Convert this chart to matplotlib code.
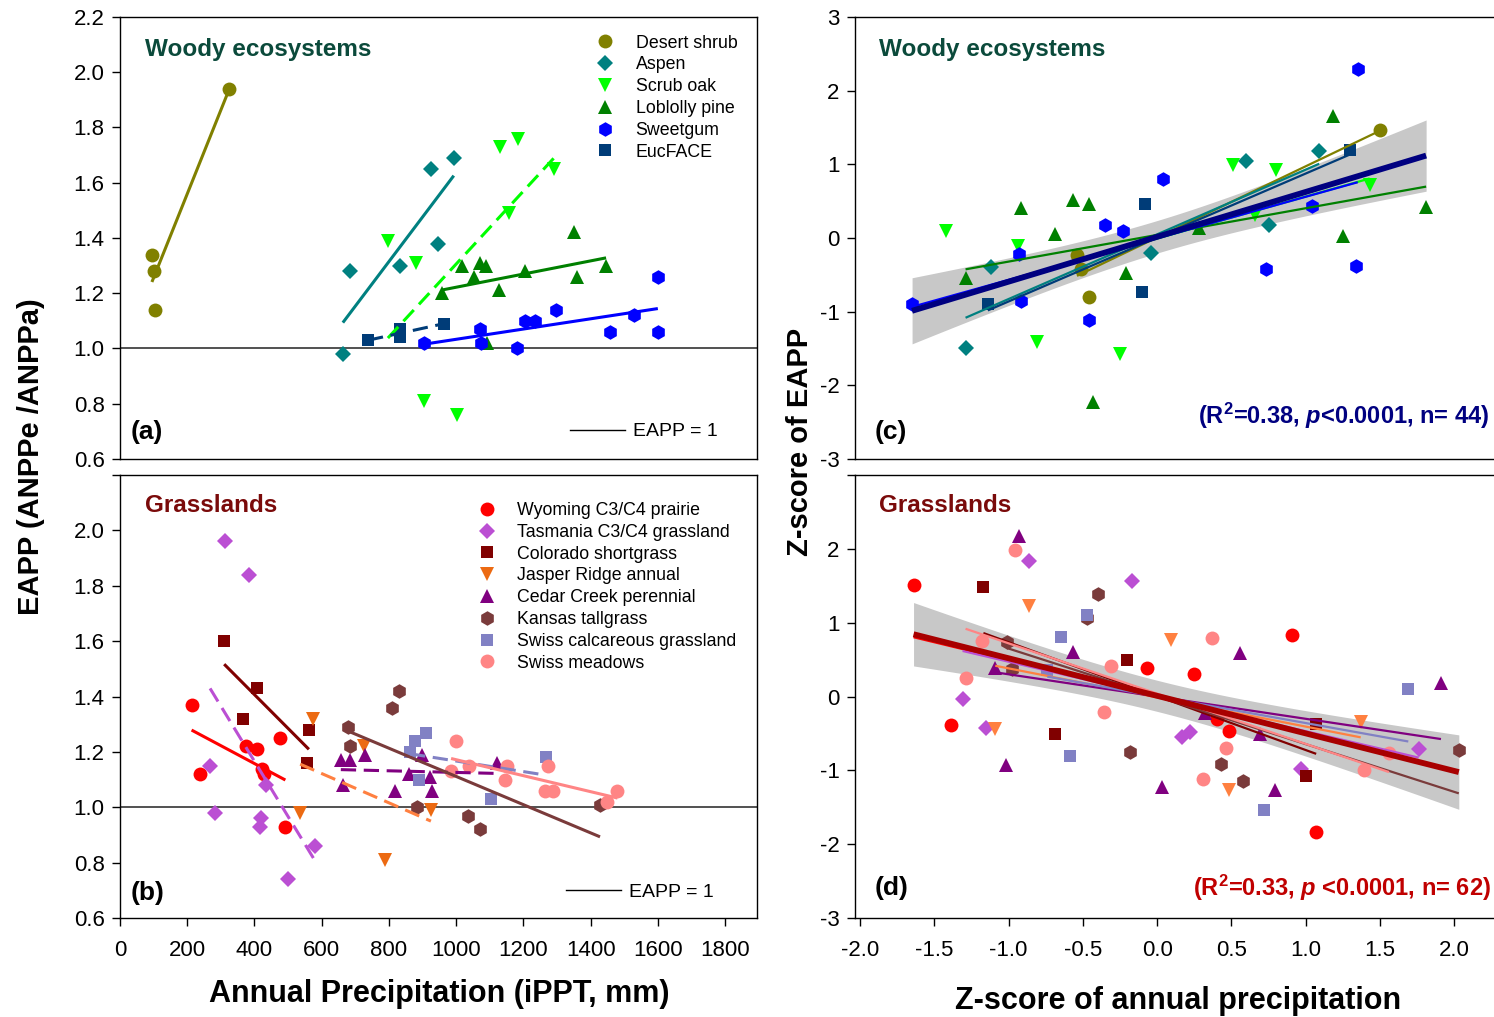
import numpy as np
import matplotlib
matplotlib.use("Agg")
import matplotlib.pyplot as plt
from matplotlib.lines import Line2D

plt.rcParams["font.family"] = ["Liberation Sans", "DejaVu Sans"]
plt.rcParams["mathtext.fontset"] = "custom"
plt.rcParams["mathtext.rm"] = "Liberation Sans:bold"
plt.rcParams["mathtext.bf"] = "Liberation Sans:bold"
plt.rcParams["mathtext.it"] = "Liberation Sans:italic:bold"
plt.rcParams["axes.unicode_minus"] = False

# ---------------- panel (a): woody ecosystems, precipitation vs EAPP
desert_ppt = [95, 100, 104, 324]
desert_eapp = [1.34, 1.28, 1.14, 1.94]
aspen_ppt = [663, 684, 833, 925, 946, 993]
aspen_eapp = [0.98, 1.28, 1.30, 1.65, 1.38, 1.69]
scrub_ppt = [797, 880, 904, 1002, 1130, 1157, 1184, 1291]
scrub_eapp = [1.39, 1.31, 0.81, 0.76, 1.73, 1.49, 1.76, 1.65]
lobl_ppt = [958, 1017, 1053, 1071, 1089, 1092, 1127, 1205, 1350, 1359, 1446]
lobl_eapp = [1.20, 1.30, 1.26, 1.31, 1.30, 1.02, 1.21, 1.28, 1.42, 1.26, 1.30]
sweet_ppt = [904, 1071, 1074, 1181, 1205, 1234, 1297, 1457, 1529, 1600, 1600]
sweet_eapp = [1.02, 1.07, 1.02, 1.00, 1.10, 1.10, 1.14, 1.06, 1.12, 1.06, 1.26]
euc_ppt = [738, 833, 833, 964]
euc_eapp = [1.03, 1.07, 1.04, 1.09]

# ---------------- panel (b): grasslands, precipitation vs EAPP
wyo_ppt = [213, 238, 375, 408, 422, 428, 476, 492]
wyo_eapp = [1.37, 1.12, 1.22, 1.21, 1.14, 1.12, 1.25, 0.93]
tas_ppt = [268, 283, 313, 383, 418, 420, 435, 499, 579]
tas_eapp = [1.15, 0.98, 1.96, 1.84, 0.93, 0.96, 1.08, 0.74, 0.86]
col_ppt = [310, 365, 407, 557, 562]
col_eapp = [1.60, 1.32, 1.43, 1.16, 1.28]
jas_ppt = [536, 574, 725, 788, 925]
jas_eapp = [0.98, 1.32, 1.22, 0.81, 0.99]
ced_ppt = [657, 663, 684, 729, 817, 860, 897, 921, 929, 1121]
ced_eapp = [1.17, 1.08, 1.17, 1.19, 1.06, 1.12, 1.19, 1.11, 1.06, 1.16]
kan_ppt = [677, 685, 809, 829, 883, 1034, 1070, 1428]
kan_eapp = [1.29, 1.22, 1.36, 1.42, 1.00, 0.97, 0.92, 1.01]
scal_ppt = [863, 878, 889, 909, 1103, 1267]
scal_eapp = [1.20, 1.24, 1.10, 1.27, 1.03, 1.18]
smea_ppt = [985, 999, 1039, 1145, 1152, 1264, 1274, 1288, 1450, 1480]
smea_eapp = [1.13, 1.24, 1.15, 1.10, 1.15, 1.06, 1.15, 1.06, 1.02, 1.06]

# ---------------- panel (c): woody z-scores (precip, EAPP)
desert_zp = [-0.54, -0.51, -0.46, 1.50]
desert_ze = [-0.23, -0.42, -0.80, 1.47]
aspen_zp = [-1.29, -1.12, -0.04, 0.60, 0.75, 1.09]
aspen_ze = [-1.50, -0.39, -0.21, 1.04, 0.17, 1.18]
scrub_zp = [-1.42, -0.94, -0.81, -0.25, 0.51, 0.66, 0.80, 1.43]
scrub_ze = [0.09, -0.11, -1.41, -1.58, 0.99, 0.31, 0.92, 0.72]
lobl_zp = [-1.29, -0.92, -0.69, -0.57, -0.46, -0.43, -0.21, 0.28, 1.18, 1.25, 1.81]
lobl_ze = [-0.55, 0.41, 0.05, 0.52, 0.46, -2.23, -0.47, 0.14, 1.66, 0.03, 0.42]
sweet_zp = [-1.65, -0.93, -0.92, -0.46, -0.35, -0.23, 0.04, 0.73, 1.04, 1.34, 1.35]
sweet_ze = [-0.89, -0.22, -0.86, -1.11, 0.17, 0.10, 0.80, -0.42, 0.44, -0.38, 2.30]
euc_zp = [-1.14, -0.10, -0.08, 1.30]
euc_ze = [-0.90, -0.74, 0.46, 1.19]

# ---------------- panel (d): grassland z-scores (precip, EAPP)
wyo_zp = [-1.64, -1.39, -0.07, 0.25, 0.40, 0.48, 0.91, 1.07]
wyo_ze = [1.51, -0.39, 0.38, 0.31, -0.31, -0.46, 0.83, -1.83]
tas_zp = [-1.31, -1.15, -0.86, -0.17, 0.17, 0.22, 0.35, 0.97, 1.76]
tas_ze = [-0.03, -0.42, 1.83, 1.56, -0.55, -0.48, -0.20, -0.98, -0.71]
col_zp = [-1.17, -0.69, -0.20, 1.00, 1.07]
col_ze = [1.48, -0.51, 0.49, -1.07, -0.37]
jas_zp = [-1.09, -0.86, 0.09, 0.48, 1.37]
jas_ze = [-0.44, 1.23, 0.76, -1.26, -0.35]
ced_zp = [-1.09, -1.02, -0.93, -0.57, 0.03, 0.32, 0.56, 0.69, 0.79, 1.91]
ced_ze = [0.38, -0.93, 2.17, 0.60, -1.22, -0.22, 0.59, -0.51, -1.26, 0.19]
kan_zp = [-1.01, -0.98, -0.47, -0.40, -0.18, 0.43, 0.58, 2.03]
kan_ze = [0.74, 0.37, 1.06, 1.39, -0.75, -0.92, -1.15, -0.72]
scal_zp = [-0.74, -0.65, -0.59, -0.47, 0.72, 1.69]
scal_ze = [0.36, 0.81, -0.80, 1.10, -1.54, 0.10]
smea_zp = [-1.29, -1.18, -0.96, -0.36, -0.31, 0.31, 0.37, 0.46, 1.39, 1.56]
smea_ze = [0.25, 0.75, 1.99, -0.21, 0.42, -1.12, 0.79, -0.70, -1.00, -0.77]

woody_labels = ["Desert shrub", "Aspen", "Scrub oak", "Loblolly pine", "Sweetgum", "EucFACE"]
grass_labels = ["Wyoming C3/C4 prairie", "Tasmania C3/C4 grassland", "Colorado shortgrass",
                "Jasper Ridge annual", "Cedar Creek perennial", "Kansas tallgrass",
                "Swiss calcareous grassland", "Swiss meadows"]

# styles: (color, marker, markersize, dashed fit in raw panel)
woody_style = [("#808000", "o", 10, False), ("#008080", "D", 8, False),
               ("#00ff00", "v", 10, True), ("#008000", "^", 10, False),
               ("#0000ff", "h", 10.5, False), ("#003c78", "s", 8.5, True)]
grass_style = [("#ff0000", "o", 10, False), ("#bb4fd3", "D", 8, True),
               ("#800000", "s", 8.5, False), ("#ec6a12", "v", 10, True),
               ("#800080", "^", 10, True), ("#7a3b3b", "h", 10.5, False),
               ("#8181c4", "s", 8.5, True), ("#ff8585", "o", 10, False)]
grass_line_colors = ["#ff0000", "#bb4fd3", "#800000", "#ff8040",
                     "#800080", "#7a3b3b", "#8181c4", "#ff8585"]

woody_raw = [(desert_ppt, desert_eapp), (aspen_ppt, aspen_eapp), (scrub_ppt, scrub_eapp),
             (lobl_ppt, lobl_eapp), (sweet_ppt, sweet_eapp), (euc_ppt, euc_eapp)]
grass_raw = [(wyo_ppt, wyo_eapp), (tas_ppt, tas_eapp), (col_ppt, col_eapp), (jas_ppt, jas_eapp),
             (ced_ppt, ced_eapp), (kan_ppt, kan_eapp), (scal_ppt, scal_eapp), (smea_ppt, smea_eapp)]
woody_z = [(desert_zp, desert_ze), (aspen_zp, aspen_ze), (scrub_zp, scrub_ze),
           (lobl_zp, lobl_ze), (sweet_zp, sweet_ze), (euc_zp, euc_ze)]
grass_z = [(wyo_zp, wyo_ze), (tas_zp, tas_ze), (col_zp, col_ze), (jas_zp, jas_ze),
           (ced_zp, ced_ze), (kan_zp, kan_ze), (scal_zp, scal_ze), (smea_zp, smea_ze)]

T95_WOODY = 2.018   # t(0.975, df=42)
T95_GRASS = 2.000   # t(0.975, df=60)


def fit_line(ax, x, y, color, lw, dashed=False):
    x = np.asarray(x, float)
    y = np.asarray(y, float)
    k, b = np.polyfit(x, y, 1)
    xs = np.array([x.min(), x.max()])
    ls = (0, (5, 2.5)) if dashed else "-"
    ax.plot(xs, k * xs + b, color=color, lw=lw, ls=ls, zorder=3, solid_capstyle="butt")


def pooled_fit(ax, groups, color, t):
    x = np.concatenate([np.asarray(g[0], float) for g in groups])
    y = np.concatenate([np.asarray(g[1], float) for g in groups])
    n = len(x)
    k, b = np.polyfit(x, y, 1)
    s = np.sqrt(np.sum((y - (k * x + b)) ** 2) / (n - 2))
    sxx = np.sum((x - x.mean()) ** 2)
    xs = np.linspace(x.min(), x.max(), 120)
    yh = k * xs + b
    se = s * np.sqrt(1.0 / n + (xs - x.mean()) ** 2 / sxx)
    ax.fill_between(xs, yh - t * se, yh + t * se, color="#c8c8c8", lw=0, zorder=1)
    ax.plot(xs, yh, color=color, lw=4.2, zorder=3.5, solid_capstyle="butt")


def scatter_groups(ax, data, styles, colors=None):
    for i, ((x, y), (c, m, ms, _)) in enumerate(zip(data, styles)):
        col = colors[i] if colors else c
        ax.plot(x, y, ls="none", marker=m, ms=ms, color=col, mec=col, mew=0, zorder=2)


def style_axes(ax):
    for sp in ax.spines.values():
        sp.set_linewidth(1.0)
        sp.set_color("black")
    ax.tick_params(direction="out", length=6, width=1, labelsize=16)
    ax.tick_params(axis="y", pad=5)
    ax.tick_params(axis="x", pad=10)


fig = plt.figure(figsize=(14.94, 10.17), dpi=100)
ax_a = fig.add_axes([0.0803, 0.5487, 0.4264, 0.4346])
ax_b = fig.add_axes([0.0803, 0.0973, 0.4264, 0.4356])
ax_c = fig.add_axes([0.5723, 0.5487, 0.4300, 0.4346])
ax_d = fig.add_axes([0.5723, 0.0973, 0.4300, 0.4356])

# ---- (a)
scatter_groups(ax_a, woody_raw, woody_style)
for (x, y), (c, m, ms, dashed) in zip(woody_raw, woody_style):
    fit_line(ax_a, x, y, c, 2.2, dashed)
ax_a.axhline(1.0, color="#333333", lw=1.2, zorder=1)
ax_a.set_xlim(0, 1895)
ax_a.set_ylim(0.6, 2.2)
yt = np.arange(0.6, 2.21, 0.2)
ax_a.set_yticks(yt)
ax_a.set_yticklabels([f"{v:.1f}" for v in yt])
ax_a.tick_params(axis="x", bottom=False, labelbottom=False)

# ---- (b)
scatter_groups(ax_b, grass_raw, grass_style)
for (x, y), (c, m, ms, dashed), lc in zip(grass_raw, grass_style, grass_line_colors):
    fit_line(ax_b, x, y, lc if dashed else c, 2.2, dashed)
ax_b.axhline(1.0, color="#333333", lw=1.2, zorder=1)
ax_b.set_xlim(0, 1895)
ax_b.set_ylim(0.6, 2.2)
ax_b.set_yticks(yt)
ax_b.set_yticklabels([f"{v:.1f}" if v < 2.1 else "" for v in yt])
ax_b.set_xticks(np.arange(0, 1801, 200))

# ---- (c)
scatter_groups(ax_c, woody_z, woody_style)
pooled_fit(ax_c, woody_z, "#000080", T95_WOODY)
for (x, y), (c, m, ms, _) in zip(woody_z, woody_style):
    fit_line(ax_c, x, y, c, 1.6)
ax_c.set_xlim(-2.034, 2.29)
ax_c.set_ylim(-3, 3)
ax_c.set_yticks(range(-3, 4))
ax_c.tick_params(axis="x", bottom=False, labelbottom=False)

# ---- (d)
scatter_groups(ax_d, grass_z, grass_style, grass_line_colors)
pooled_fit(ax_d, grass_z, "#a80000", T95_GRASS)
for (x, y), lc in zip(grass_z, grass_line_colors):
    fit_line(ax_d, x, y, lc, 1.6)
ax_d.set_xlim(-2.034, 2.29)
ax_d.set_ylim(-3, 3)
ax_d.set_yticks(range(-3, 4))
ax_d.set_yticklabels([str(v) if v < 3 else "" for v in range(-3, 4)])
xt = np.arange(-2.0, 2.01, 0.5)
ax_d.set_xticks(xt)
ax_d.set_xticklabels([f"{v:.1f}" for v in xt])

for ax in (ax_a, ax_b, ax_c, ax_d):
    style_axes(ax)
for ax in (ax_c, ax_d):
    ax.spines["right"].set_visible(False)


# ---- legends
def species_legend(ax, labels, styles, anchor):
    handles = [Line2D([], [], ls="none", marker=m, ms=ms, color=c, mew=0)
               for (c, m, ms, _) in styles]
    leg = ax.legend(handles, labels, loc="upper left", bbox_to_anchor=anchor,
                    frameon=False, fontsize=12.8, handlelength=1.0, handletextpad=1.2,
                    labelspacing=0.27, borderpad=0, borderaxespad=0)
    ax.add_artist(leg)


def eapp_legend(ax, anchor):
    h = Line2D([], [], color="black", lw=1)
    ax.legend([h], ["EAPP = 1"], loc="center left", bbox_to_anchor=anchor, frameon=False,
              fontsize=14, handlelength=2.85, handletextpad=0.4, borderpad=0, borderaxespad=0)


species_legend(ax_a, woody_labels, woody_style, (0.748, 0.960))
species_legend(ax_b, grass_labels, grass_style, (0.562, 0.939))
eapp_legend(ax_a, (0.706, 0.062))
eapp_legend(ax_b, (0.700, 0.058))

# ---- panel texts
woody_col = "#0b4a3b"
grass_col = "#7a0a0a"
ax_a.text(0.039, 0.926, "Woody ecosystems", transform=ax_a.transAxes, fontsize=17.5,
          fontweight="bold", color=woody_col, va="center")
ax_b.text(0.039, 0.932, "Grasslands", transform=ax_b.transAxes, fontsize=17.5,
          fontweight="bold", color=grass_col, va="center")
ax_c.text(0.037, 0.926, "Woody ecosystems", transform=ax_c.transAxes, fontsize=17.5,
          fontweight="bold", color=woody_col, va="center")
ax_d.text(0.037, 0.932, "Grasslands", transform=ax_d.transAxes, fontsize=17.5,
          fontweight="bold", color=grass_col, va="center")

for ax, lab, y in ((ax_a, "(a)", 0.061), (ax_b, "(b)", 0.056), (ax_c, "(c)", 0.061), (ax_d, "(d)", 0.068)):
    x = 0.016 if ax in (ax_a, ax_b) else 0.031
    ax.text(x, y, lab, transform=ax.transAxes, fontsize=19, fontweight="bold", va="center")

ax_c.text(0.9875, 0.097, r"(R$^{2}$=0.38, $p$<0.0001, n= 44)", transform=ax_c.transAxes,
          fontsize=17, fontweight="bold", color="#000080", ha="right", va="center")
ax_d.text(0.9905, 0.068, r"(R$^{2}$=0.33, $p$ <0.0001, n= 62)", transform=ax_d.transAxes,
          fontsize=17, fontweight="bold", color="#c00000", ha="right", va="center")

# ---- axis titles
fig.text(0.0207, 0.5506, "EAPP (ANPPe /ANPPa)", rotation=90, fontsize=21,
         fontweight="bold", ha="center", va="center")
fig.text(0.5355, 0.5654, "Z-score of EAPP", rotation=90, fontsize=21,
         fontweight="bold", ha="center", va="center")
fig.text(0.2938, 0.0226, "Annual Precipitation (iPPT, mm)", fontsize=22,
         fontweight="bold", ha="center", va="center")
fig.text(0.7885, 0.0157, "Z-score of annual precipitation", fontsize=22,
         fontweight="bold", ha="center", va="center")

fig.savefig("out.png", dpi=100, facecolor="white")
